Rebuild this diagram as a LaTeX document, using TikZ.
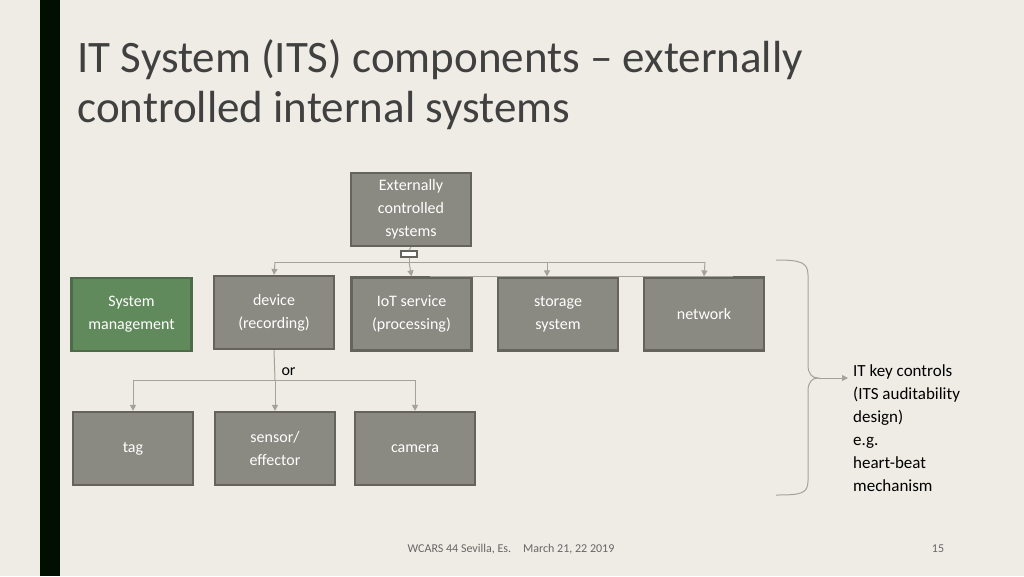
\documentclass[tikz,border=0pt]{standalone}
\usepackage{fontspec}
\setmainfont{Carlito}
\usetikzlibrary{arrows.meta}
\definecolor{bg}{HTML}{EEECE5}
\definecolor{boxf}{HTML}{8A8A82}
\definecolor{boxd}{HTML}{64645D}
\definecolor{grn}{HTML}{618A5C}
\definecolor{grnd}{HTML}{4D6B49}
\definecolor{ln}{HTML}{A3A39C}
\begin{document}
\begin{tikzpicture}[x=1pt,y=-1pt,
  bx/.style={draw=boxd,line width=2.2pt,fill=boxf,text=white,minimum width=120pt,minimum height=73pt,align=center,font=\fontsize{16}{23}\selectfont,inner sep=0pt},
  cn/.style={draw=ln,line width=1pt,-{Triangle[length=6pt,width=6pt]}},
  cl/.style={draw=ln,line width=1pt}]
\fill[bg] (0,0) rectangle (1024,576);
\useasboundingbox (0,0) rectangle (1024,576);
\fill[black!85!green!40!black] (40,0) rectangle (60,576);
\node[anchor=west,font=\fontsize{45}{50}\selectfont,text=black!75,align=left] (title) at (74,85) {IT System (ITS) components -- externally\\controlled internal systems};
\node[bx] (top) at (411,209.5) {Externally\\controlled\\systems};
\node[bx,fill=grn,draw=grnd] (sm) at (131.5,314.5) {System\\management};
\node[bx] (dev) at (274,312.5) {device\\(recording)};
\node[bx] (iot) at (411.5,314) {IoT service\\(processing)};
\node[bx] (sto) at (558,314) {storage\\system};
\node[bx] (net) at (704,314) {network};
\node[bx] (tag) at (133,448.5) {tag};
\node[bx] (sen) at (275,448.5) {sensor/\\effector};
\node[bx] (cam) at (415,448.5) {camera};
\node[draw=boxd,line width=1.5pt,fill=white,minimum width=16pt,minimum height=6pt,inner sep=0pt] (sq) at (409,254) {};
\draw[cl] (top.south) -- (sq.north);
\coordinate (h) at (409,262);
\draw[cl] (sq.south) -- (h);
\draw[cl] (275,262) -- (705,262);
\draw[cl] (430,276) -- (733,276);
\draw[cn] (275,262) -- (dev.north);
\draw[cn] (h) -- (iot.north);
\draw[cn] (547,262) -- (sto.north-|547,0);
\draw[cn] (705,262) -- (net.north);
\coordinate (o) at (275,380);
\draw[cl] (dev.south) -- (o);
\draw[cl] (133,380) -- (415,380);
\draw[cn] (133,380) -- (tag.north);
\draw[cn] (o) -- (sen.north);
\draw[cn] (415,380) -- (cam.north);
\node[anchor=west,font=\fontsize{16}{20}\selectfont] (or) at (278,372) {or};
\draw[cl] (776,260) .. controls (800,260) and (808,262) .. (808,275) -- (808,365) .. controls (808,374) and (812,378) .. (818,378)
  .. controls (812,378) and (808,382) .. (808,391) -- (808,481) .. controls (808,494) and (800,495) .. (776,495);
\coordinate (bt) at (818,378);
\node[anchor=north west,align=left,font=\fontsize{17}{23}\selectfont,inner sep=0pt] (kc) at (853,364) {IT key controls\\(ITS auditability\\design)\\e.g.\\heart-beat\\mechanism};
\draw[cn] (bt) -- (848,378);
\node[font=\fontsize{12}{13}\selectfont,text=black!60] (ft) at (511,549) {WCARS 44 Sevilla, Es.\quad March 21, 22 2019};
\node[font=\fontsize{12}{13}\selectfont,text=black!60] (pg) at (938,549) {15};
\end{tikzpicture}
\end{document}
